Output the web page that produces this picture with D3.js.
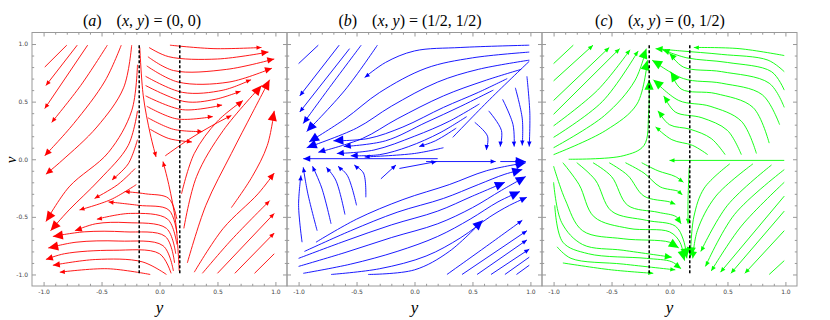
<!DOCTYPE html>
<html>
<head>
<meta charset="utf-8">
<script src="https://cdn.jsdelivr.net/npm/d3@7"></script>
<style>
  body { margin: 0; background: #fff; }
</style>
</head>
<body>
<svg id="chart" width="830" height="320"></svg>
<script>
// panel titles
const panelLetters = ["a", "b", "c"];
const panelPoints = ["(0, 0)", "(1/2, 1/2)", "(0, 1/2)"];
const colors = ["#ff0000", "#0000ff", "#00ff00"];

// dashed vertical lines (in y units)
const dashA = [-0.175, 0.175];
const dashB = [];
const dashC = [-0.175, 0.175];

const majorTicks = [-1, -0.5, 0, 0.5, 1];
const tickLabels = ["-1.0", "-0.5", "0.0", "0.5", "1.0"];

// streamlines: [[y, v] points in flow order], speed class of the arrow at the end (0 = none)
const streamsA = [
  // upper left, running down-left
  [[[-0.80, 0.99], [-0.99, 0.80]], 0],
  [[[-0.71, 0.99], [-0.98, 0.64]], 1],
  [[[-0.62, 0.99], [-0.99, 0.44]], 1],
  [[[-0.45, 0.99], [-0.68, 0.64], [-0.93, 0.32]], 1],
  [[[-0.33, 0.99], [-0.47, 0.68], [-0.74, 0.31], [-0.99, 0.03]], 2],
  [[[-0.24, 0.99], [-0.31, 0.62], [-0.54, 0.28], [-0.84, -0.01], [-0.98, -0.13]], 2],
  [[[-0.19, 0.82], [-0.24, 0.42], [-0.44, 0.06], [-0.78, -0.24], [-0.98, -0.54]], 3],
  [[[-0.19, 0.42], [-0.27, 0.12], [-0.52, -0.18], [-0.78, -0.44], [-0.94, -0.62]], 3],
  [[[-0.19, 0.17], [-0.27, -0.04], [-0.41, -0.18]], 1],
  [[[-0.21, -0.08], [-0.36, -0.22], [-0.56, -0.34]], 1],
  [[[-0.20, -0.22], [-0.42, -0.35], [-0.69, -0.44]], 1],
  // lower middle, arching to the left
  [[[-0.08, -1.00], [-0.45, -0.95], [-0.86, -0.98]], 1],
  [[[0.06, -1.00], [-0.15, -0.89], [-0.55, -0.87], [-0.92, -0.92]], 2],
  [[[0.10, -0.99], [0.00, -0.82], [-0.40, -0.79], [-0.82, -0.82], [-0.98, -0.87]], 2],
  [[[0.12, -0.97], [0.03, -0.75], [-0.35, -0.71], [-0.72, -0.72], [-0.96, -0.77]], 3],
  [[[0.13, -0.90], [0.05, -0.67], [-0.30, -0.63], [-0.65, -0.63], [-0.92, -0.67]], 3],
  [[[0.14, -0.82], [0.06, -0.60], [-0.28, -0.55], [-0.55, -0.56], [-0.73, -0.62]], 2],
  [[[0.15, -0.74], [0.07, -0.52], [-0.25, -0.47], [-0.54, -0.52]], 1],
  [[[0.15, -0.64], [0.08, -0.44], [-0.18, -0.40], [-0.44, -0.37]], 1],
  [[[0.15, -0.52], [0.08, -0.34], [-0.12, -0.30], [-0.30, -0.28]], 1],
  [[[0.17, -0.97], [0.14, -0.55], [0.08, -0.22], [0.03, -0.02]], 1],
  // upper middle, fanning to the right
  [[[-0.17, 0.97], [-0.14, 0.55], [-0.08, 0.22], [-0.03, 0.02]], 1],
  [[[0.09, 0.99], [0.47, 0.96], [0.88, 0.97]], 1],
  [[[-0.09, 0.97], [0.08, 0.89], [0.50, 0.87], [0.94, 0.93]], 2],
  [[[-0.10, 0.89], [0.12, 0.77], [0.58, 0.78], [0.99, 0.87]], 2],
  [[[-0.11, 0.81], [0.16, 0.67], [0.60, 0.67], [0.97, 0.79]], 2],
  [[[-0.12, 0.72], [0.20, 0.58], [0.55, 0.60], [0.79, 0.69]], 1],
  [[[-0.12, 0.64], [0.22, 0.50], [0.48, 0.52], [0.70, 0.59]], 1],
  [[[-0.12, 0.55], [0.20, 0.43], [0.54, 0.47]], 1],
  [[[-0.11, 0.46], [0.15, 0.35], [0.46, 0.37]], 1],
  [[[-0.10, 0.36], [0.12, 0.26], [0.37, 0.24]], 1],
  [[[-0.08, 0.26], [0.08, 0.18], [0.28, 0.15]], 1],
  // right side, running up-right
  [[[0.05, 0.03], [0.25, 0.17], [0.45, 0.29], [0.62, 0.38]], 1],
  [[[0.19, -0.30], [0.30, 0.05], [0.50, 0.33], [0.72, 0.51]], 2],
  [[[0.21, -0.60], [0.32, -0.15], [0.55, 0.25], [0.88, 0.64]], 3],
  [[[0.24, -0.90], [0.40, -0.40], [0.62, 0.05], [0.80, 0.40], [0.95, 0.69]], 3],
  [[[0.62, -0.42], [0.80, -0.15], [0.93, 0.12], [0.99, 0.42]], 3],
  [[[0.30, -0.98], [0.55, -0.60], [0.85, -0.30], [0.99, -0.12]], 2],
  [[[0.37, -0.99], [0.62, -0.70], [0.95, -0.36]], 1],
  [[[0.50, -0.99], [0.99, -0.47]], 1],
  [[[0.65, -0.99], [0.99, -0.64]], 1],
  [[[0.82, -0.99], [0.99, -0.82]], 0]
];

const streamsB = [
  // upper left, running down-left
  [[[-0.83, 0.99], [-1.00, 0.83]], 0],
  [[[-0.65, 0.99], [-0.99, 0.55]], 1],
  [[[-0.56, 0.96], [-0.99, 0.41]], 1],
  [[[-0.46, 0.99], [-0.75, 0.60], [-0.96, 0.31]], 2],
  [[[-0.32, 0.99], [-0.60, 0.60], [-0.93, 0.24]], 3],
  // from the upper right, S-shaped towards the left
  [[[0.99, 0.99], [0.40, 0.97], [0.00, 0.94], [-0.25, 0.84], [-0.43, 0.71]], 1],
  [[[0.99, 0.93], [0.50, 0.88], [0.10, 0.79], [-0.30, 0.58], [-0.60, 0.35], [-0.91, 0.15]], 3],
  [[[0.99, 0.86], [0.55, 0.78], [0.20, 0.67], [-0.20, 0.46], [-0.50, 0.27], [-0.93, 0.10]], 3],
  [[[0.92, 0.78], [0.60, 0.68], [0.25, 0.55], [-0.15, 0.35], [-0.45, 0.18], [-0.83, 0.06]], 2],
  [[[0.80, 0.70], [0.55, 0.58], [0.25, 0.45], [-0.10, 0.28], [-0.40, 0.18], [-0.70, 0.16]], 3],
  [[[0.68, 0.60], [0.40, 0.46], [0.10, 0.32], [-0.25, 0.16], [-0.61, 0.11]], 2],
  [[[0.56, 0.48], [0.30, 0.33], [0.00, 0.20], [-0.35, 0.08], [-0.67, 0.05]], 2],
  [[[0.45, 0.37], [0.22, 0.23], [-0.05, 0.11], [-0.30, 0.04], [-0.55, 0.03]], 2],
  [[[0.36, 0.27], [0.18, 0.16], [0.04, 0.11]], 1],
  [[[0.25, 0.10], [0.00, 0.05], [-0.43, 0.02]], 1],
  [[[0.33, 0.19], [0.65, 0.52], [0.99, 0.85]], 0],
  // upper right, dropping towards (1, 0)
  [[[0.97, 0.72], [0.995, 0.40], [0.99, 0.11]], 1],
  [[[0.87, 0.62], [0.93, 0.35], [0.93, 0.12]], 1],
  [[[0.76, 0.52], [0.85, 0.30], [0.86, 0.11]], 1],
  [[[0.64, 0.42], [0.75, 0.25], [0.74, 0.11]], 1],
  [[[0.52, 0.32], [0.63, 0.20], [0.62, 0.08]], 1],
  // along v = 0
  [[[0.20, 0.005], [-0.96, 0.005]], 2],
  [[[0.10, -0.02], [0.70, -0.02]], 1],
  [[[0.74, -0.02], [0.96, -0.02]], 3],
  // arcs in the lower left
  [[[-0.97, -0.72], [-1.00, -0.40], [-0.98, -0.14]], 1],
  [[[-0.84, -0.62], [-0.92, -0.30], [-0.96, -0.07]], 1],
  [[[-0.72, -0.56], [-0.80, -0.25], [-0.88, -0.06]], 1],
  [[[-0.60, -0.48], [-0.68, -0.18], [-0.76, -0.07]], 1],
  [[[-0.50, -0.40], [-0.58, -0.14], [-0.66, -0.06]], 1],
  [[[-0.42, -0.33], [-0.44, -0.12], [-0.52, -0.05]], 1],
  [[[-0.29, -0.17], [-0.16, -0.05]], 1],
  [[[-0.13, -0.08], [0.19, -0.02]], 1],
  // lower family, converging on (1, 0)
  [[[-0.85, -0.72], [-0.50, -0.52], [-0.10, -0.35], [0.30, -0.22], [0.62, -0.10], [0.96, -0.03]], 3],
  [[[-0.95, -0.80], [-0.55, -0.62], [-0.15, -0.46], [0.25, -0.34], [0.55, -0.22], [0.78, -0.13], [0.93, -0.09]], 3],
  [[[-1.00, -0.86], [-0.60, -0.71], [-0.20, -0.57], [0.20, -0.45], [0.50, -0.32], [0.78, -0.20]], 3],
  [[[-1.00, -0.93], [-0.60, -0.81], [-0.20, -0.68], [0.20, -0.56], [0.50, -0.42], [0.75, -0.27], [0.96, -0.15]], 3],
  [[[-0.96, -0.99], [-0.55, -0.91], [-0.15, -0.80], [0.20, -0.67], [0.48, -0.52], [0.72, -0.37], [0.91, -0.28]], 3],
  [[[-0.72, -1.00], [-0.30, -0.95], [0.10, -0.84], [0.40, -0.68], [0.65, -0.50], [0.82, -0.40], [0.97, -0.33]], 2],
  [[[-0.40, -1.00], [0.00, -0.96], [0.30, -0.80], [0.59, -0.53]], 3],
  [[[0.28, -1.00], [0.60, -0.77], [0.93, -0.53]], 1],
  [[[0.41, -1.00], [0.97, -0.62]], 1],
  [[[0.54, -1.00], [0.97, -0.70]], 1],
  [[[0.66, -1.00], [0.99, -0.78]], 1],
  [[[0.78, -1.00], [0.99, -0.85]], 0],
  [[[0.88, -1.00], [0.99, -0.92]], 0]
];

const streamsC = [
  // upper left, running up-right to the top of the left dash
  [[[-1.00, 0.83], [-0.83, 0.99]], 0],
  [[[-1.00, 0.68], [-0.66, 0.99]], 1],
  [[[-1.00, 0.51], [-0.52, 0.97]], 1],
  [[[-1.00, 0.39], [-0.43, 0.96]], 1],
  [[[-1.00, 0.29], [-0.62, 0.60], [-0.34, 0.95]], 1],
  [[[-1.00, 0.19], [-0.58, 0.50], [-0.27, 0.94]], 1],
  [[[-1.00, 0.10], [-0.56, 0.38], [-0.30, 0.68], [-0.20, 0.96]], 3],
  [[[-1.00, 0.04], [-0.55, 0.25], [-0.28, 0.48], [-0.19, 0.86]], 3],
  [[[-0.87, 0.00], [-0.40, 0.03], [-0.22, 0.12], [-0.18, 0.40], [-0.175, 0.69]], 3],
  // upper right, running left with an S
  [[[0.99, 0.90], [0.60, 0.96], [0.21, 0.97]], 1],
  [[[0.99, 0.76], [0.85, 0.86], [0.45, 0.91], [0.10, 0.94], [-0.12, 0.96]], 2],
  [[[0.99, 0.60], [0.88, 0.76], [0.50, 0.84], [0.15, 0.88], [-0.06, 0.95]], 2],
  [[[0.99, 0.45], [0.86, 0.66], [0.45, 0.76], [0.12, 0.80], [0.00, 0.92]], 2],
  [[[0.95, 0.30], [0.80, 0.56], [0.45, 0.66], [0.12, 0.70], [-0.15, 0.86]], 3],
  [[[0.86, 0.14], [0.72, 0.45], [0.40, 0.57], [0.10, 0.61], [0.01, 0.76]], 3],
  [[[0.75, 0.05], [0.62, 0.33], [0.35, 0.46], [0.08, 0.51], [-0.14, 0.69]], 3],
  [[[0.62, 0.04], [0.50, 0.25], [0.28, 0.36], [0.05, 0.41], [-0.05, 0.55]], 2],
  [[[0.48, 0.04], [0.36, 0.18], [0.18, 0.26], [0.00, 0.30], [-0.10, 0.42]], 2],
  [[[0.33, 0.04], [0.20, 0.12], [0.02, 0.17], [-0.12, 0.28]], 1],
  // along v = 0 and the right dash
  [[[0.99, -0.01], [0.00, -0.01]], 1],
  [[[0.17, -0.07], [0.16, -0.35], [0.16, -0.56]], 1],
  // lower left, running right and down to the bottom of the right dash
  [[[-0.24, -0.03], [-0.10, -0.10], [0.05, -0.15], [0.12, -0.20]], 1],
  [[[-0.38, -0.03], [-0.22, -0.12], [-0.08, -0.24], [0.08, -0.28], [0.11, -0.31]], 1],
  [[[-0.52, -0.03], [-0.36, -0.14], [-0.22, -0.32], [0.00, -0.37], [0.05, -0.39]], 1],
  [[[-0.66, -0.03], [-0.50, -0.15], [-0.36, -0.40], [-0.10, -0.46], [0.06, -0.50], [0.10, -0.56]], 2],
  [[[-0.80, -0.03], [-0.64, -0.18], [-0.50, -0.45], [-0.20, -0.53], [0.05, -0.58], [0.12, -0.70], [0.15, -0.86]], 3],
  [[[-0.92, -0.03], [-0.78, -0.22], [-0.65, -0.50], [-0.35, -0.60], [0.00, -0.63], [0.09, -0.72], [0.13, -0.88]], 3],
  [[[-1.00, -0.06], [-0.90, -0.35], [-0.75, -0.62], [-0.40, -0.69], [0.00, -0.72], [0.08, -0.77]], 3],
  [[[-1.00, -0.20], [-0.93, -0.55], [-0.75, -0.74], [-0.40, -0.79], [0.02, -0.85]], 2],
  [[[-0.99, -0.40], [-0.92, -0.72], [-0.70, -0.82], [-0.20, -0.86], [0.02, -0.89], [0.10, -0.95]], 2],
  [[[-0.97, -0.76], [-0.85, -0.86], [-0.40, -0.91], [0.05, -0.96]], 1],
  [[[-0.92, -0.90], [-0.50, -0.96], [-0.14, -0.99]], 1],
  // lower right, running down-left
  [[[0.99, -0.88], [0.86, -1.00]], 0],
  [[[0.99, -0.62], [0.65, -0.99]], 1],
  [[[0.99, -0.45], [0.53, -0.99]], 1],
  [[[0.99, -0.32], [0.44, -0.98]], 1],
  [[[0.99, -0.20], [0.62, -0.58], [0.36, -0.97]], 1],
  [[[0.99, -0.09], [0.56, -0.48], [0.31, -0.93]], 1],
  [[[0.88, -0.05], [0.50, -0.40], [0.27, -0.80]], 1],
  [[[0.72, -0.04], [0.40, -0.32], [0.24, -0.62], [0.20, -0.86]], 2],
  [[[0.52, -0.04], [0.30, -0.25], [0.21, -0.50], [0.18, -0.85]], 3]
];

const svg = d3.select("#chart");
const panelLeft = [32, 287, 542];
const side = 255;
const frameTop = 32.5, frameBottom = 286;
const titleX = [142, 410, 660];
const frameColor = "#999";
const arrowLen = [0, 5, 7, 10];
const arrowHalf = [0, 2.2, 3.2, 4.6];

const streams = [streamsA, streamsB, streamsC];
const dashes = [dashA, dashB, dashC];
const minorTicks = d3.range(-10, 11).map(i => i / 10).filter(d => !majorTicks.some(m => Math.abs(m - d) < 1e-9));

streams.forEach((lines, k) => {
  const x = d3.scaleLinear().domain([-1.1, 1.1]).range([panelLeft[k], panelLeft[k] + side]);
  const y = d3.scaleLinear().domain([-1.1, 1.1]).range([frameBottom, frameTop]);
  const g = svg.append("g");

  // frame
  g.append("rect")
    .attr("x", x(-1.1)).attr("y", frameTop)
    .attr("width", x(1.1) - x(-1.1)).attr("height", frameBottom - frameTop)
    .attr("fill", "none").attr("stroke", frameColor).attr("stroke-width", 1);

  const sides = [
    [d3.axisBottom(x), `translate(0,${frameBottom})`, true],
    [d3.axisTop(x), `translate(0,${frameTop})`, false],
    [d3.axisLeft(y), `translate(${x(-1.1)},0)`, k === 0],
    [d3.axisRight(y), `translate(${x(1.1)},0)`, false]
  ];
  sides.forEach(([axis, tr, labelled]) => {
    const major = g.append("g").attr("transform", tr)
      .call(axis.tickValues(majorTicks).tickSizeInner(-4).tickSizeOuter(0).tickPadding(4)
        .tickFormat((d, i) => labelled ? tickLabels[i] : ""));
    major.select(".domain").remove();
    major.selectAll("line").attr("stroke", frameColor);
    major.selectAll("text")
      .style("font-family", "'DejaVu Sans', sans-serif")
      .style("font-size", "6px")
      .attr("fill", "#444");

    const minor = g.append("g").attr("transform", tr)
      .call(axis.tickValues(minorTicks).tickSizeInner(-2.2).tickSizeOuter(0).tickFormat(""));
    minor.select(".domain").remove();
    minor.selectAll("line").attr("stroke", frameColor);
  });

  // streamlines
  const line = d3.line()
    .x(d => x(d[0]))
    .y(d => y(d[1]))
    .curve(d3.curveCatmullRom.alpha(0.5));

  g.selectAll("path.stream")
    .data(lines)
    .join("path")
    .attr("class", "stream")
    .attr("d", d => line(d[0]))
    .attr("fill", "none")
    .attr("stroke", colors[k])
    .attr("stroke-width", 0.9);

  g.selectAll("path.head")
    .data(lines.filter(d => d[1] > 0))
    .join("path")
    .attr("class", "head")
    .attr("d", d => {
      const p = d[0];
      const a = p[p.length - 2], b = p[p.length - 1];
      const x0 = x(a[0]), y0 = y(a[1]), x1 = x(b[0]), y1 = y(b[1]);
      const len = Math.hypot(x1 - x0, y1 - y0);
      const ux = (x1 - x0) / len, uy = (y1 - y0) / len;
      const L = arrowLen[d[1]], H = arrowHalf[d[1]];
      const bx = x1 - ux * L, by = y1 - uy * L;
      return `M${x1},${y1}L${bx - uy * H},${by + ux * H}L${bx + uy * H},${by - ux * H}Z`;
    })
    .attr("fill", colors[k]);

  // dashed lines
  g.selectAll("line.dash")
    .data(dashes[k])
    .join("line")
    .attr("class", "dash")
    .attr("x1", d => x(d)).attr("x2", d => x(d))
    .attr("y1", y(0.99)).attr("y2", y(-0.99))
    .attr("stroke", "#000")
    .attr("stroke-width", 1.5)
    .attr("stroke-dasharray", "3,2");

  // title
  const t = svg.append("text")
    .attr("x", titleX[k])
    .attr("y", 26)
    .attr("text-anchor", "middle")
    .style("font-family", "'Liberation Serif', serif")
    .style("font-size", "16px");
  t.append("tspan").text("(");
  t.append("tspan").style("font-style", "italic").text(panelLetters[k]);
  t.append("tspan").text(")");
  t.append("tspan").attr("dx", 15).text("(");
  t.append("tspan").style("font-style", "italic").text("x");
  t.append("tspan").text(", ");
  t.append("tspan").style("font-style", "italic").text("y");
  t.append("tspan").text(") = " + panelPoints[k]);

  // x-axis label
  svg.append("text")
    .attr("x", x(0))
    .attr("y", 313)
    .attr("text-anchor", "middle")
    .style("font-family", "'Liberation Serif', serif")
    .style("font-style", "italic")
    .style("font-size", "17px")
    .text("y");
});

// left axis label
svg.append("text")
  .attr("transform", "translate(16,160) rotate(-90)")
  .attr("text-anchor", "middle")
  .style("font-family", "'Liberation Serif', serif")
  .style("font-style", "italic")
  .style("font-size", "15px")
  .text("v");
</script>
</body>
</html>
